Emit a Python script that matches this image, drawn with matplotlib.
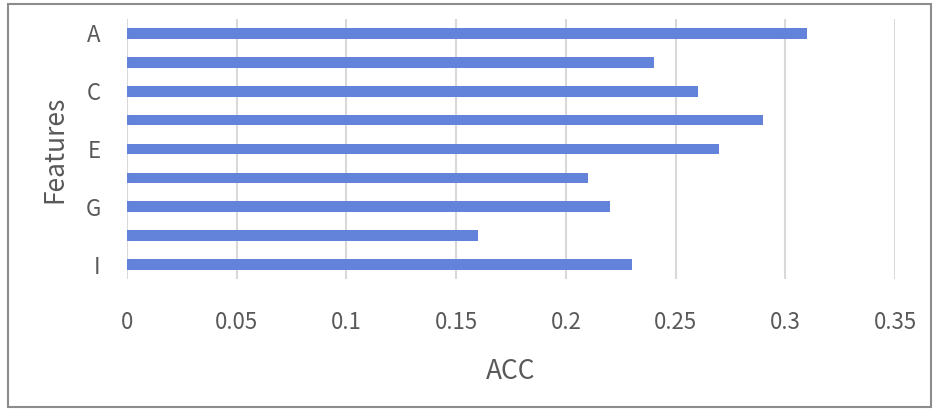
import matplotlib
matplotlib.use("Agg")
import matplotlib.pyplot as plt
from matplotlib.patches import Rectangle

plt.rcParams['font.family'] = ['Noto Sans CJK KR', 'DejaVu Sans']
plt.rcParams['font.weight'] = 'light'

features = ["A", "B", "C", "D", "E", "F", "G", "H", "I"]
acc = [0.31, 0.24, 0.26, 0.29, 0.27, 0.21, 0.22, 0.16, 0.23]
shown_labels = ["A", "", "C", "", "E", "", "G", "", "I"]
x_ticks = [0, 0.05, 0.1, 0.15, 0.2, 0.25, 0.3, 0.35]
x_tick_labels = ["0", "0.05", "0.1", "0.15", "0.2", "0.25", "0.3", "0.35"]

text_color = "#595959"
bar_color = "#6283D9"
grid_color = "#D9D9D9"

W, H = 933, 409
fig = plt.figure(figsize=(W / 100, H / 100), dpi=100)
ax = fig.add_axes([127 / W, 1 - 279 / H, (895 - 127) / W, (279 - 19) / H])

pos = list(range(len(features)))
ax.barh(pos, acc, height=0.37, color=bar_color, zorder=3)
ax.set_ylim(len(features) - 0.5, -0.5)
ax.set_xlim(0, 0.35)

ax.set_yticks(pos)
ax.set_yticklabels(shown_labels)
ax.set_xticks(x_ticks)
ax.set_xticklabels(x_tick_labels)

ax.tick_params(axis="both", length=0, colors=text_color, labelsize=16)
ax.tick_params(axis="x", pad=23)
ax.tick_params(axis="y", pad=19)

ax.grid(axis="x", color=grid_color, linewidth=1.5, zorder=0)
for s in ax.spines.values():
    s.set_visible(False)

ax.set_xlabel("ACC", fontsize=19, color=text_color, labelpad=17)
ax.set_ylabel("Features", fontsize=19, color=text_color, labelpad=12)

fig.patches.append(Rectangle((8 / W, 2 / H), (931 - 8) / W, (405 - 2) / H,
                             transform=fig.transFigure, fill=False,
                             edgecolor="#8C8C8C", linewidth=1.5))

fig.savefig("out.png", dpi=100)
